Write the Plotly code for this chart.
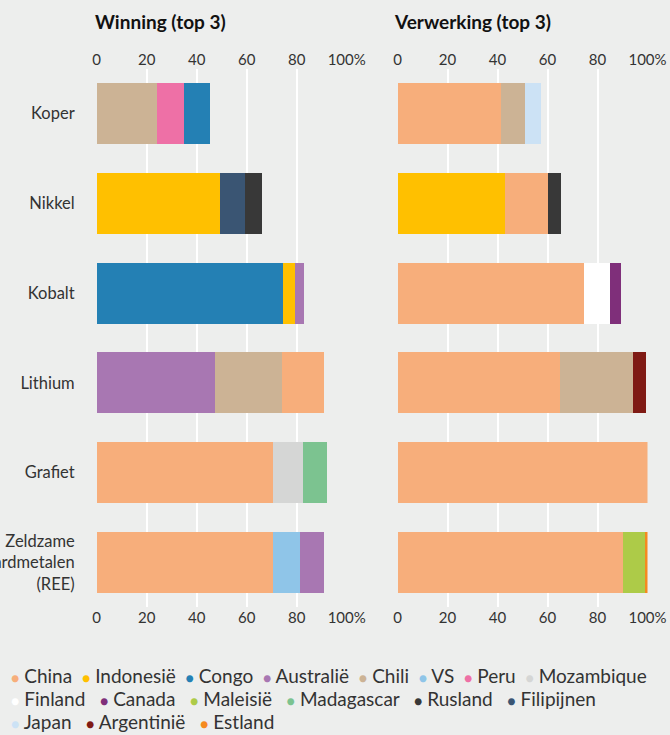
import plotly.graph_objects as go

# ---------------- data ----------------
minerals = ["Koper", "Nikkel", "Kobalt", "Lithium", "Grafiet", "Zeldzame<br>aardmetalen<br>(REE)"]

# Winning (top 3): countries and shares (%) per mineral, in stacking order
win_countries = [
    ["Chili", "Peru", "Congo"],
    ["Indonesië", "Filipijnen", "Rusland"],
    ["Congo", "Indonesië", "Australië"],
    ["Australië", "Chili", "China"],
    ["China", "Mozambique", "Madagascar"],
    ["China", "VS", "Australië"],
]
win_values = [
    [24, 11, 10.5],
    [49.5, 10, 6.5],
    [74.5, 5, 3.5],
    [47.5, 26.5, 17],
    [70.5, 12, 9.5],
    [70.5, 11, 9.5],
]

# Verwerking (top 3)
verw_countries = [
    ["China", "Chili", "Japan"],
    ["Indonesië", "China", "Rusland"],
    ["China", "Finland", "Canada"],
    ["China", "Chili", "Argentinië"],
    ["China", None, None],
    ["China", "Maleisië", "Estland"],
]
verw_values = [
    [41.5, 9.5, 6.5],
    [43, 17, 5.5],
    [74.5, 10.5, 4.5],
    [65, 29, 5.5],
    [100, None, None],
    [90, 9, 1],
]

legend_order = ["China", "Indonesië", "Congo", "Australië", "Chili", "VS", "Peru", "Mozambique",
                "Finland", "Canada", "Maleisië", "Madagascar", "Rusland", "Filipijnen",
                "Japan", "Argentinië", "Estland"]
legend_rows = [legend_order[0:8], legend_order[8:14], legend_order[14:17]]

colors = {
    "China": "#F7AE7B",
    "Indonesië": "#FFC000",
    "Congo": "#2480B4",
    "Australië": "#A877B2",
    "Chili": "#CCB395",
    "VS": "#8FC5E8",
    "Peru": "#EE70A6",
    "Mozambique": "#D5D6D5",
    "Finland": "#FFFFFF",
    "Canada": "#7F2F7A",
    "Maleisië": "#ADCB48",
    "Madagascar": "#7CC390",
    "Rusland": "#383838",
    "Filipijnen": "#3A5573",
    "Japan": "#CCE2F5",
    "Argentinië": "#7F1A14",
    "Estland": "#F58A1F",
}

tick_vals = [0, 20, 40, 60, 80, 100]
tick_text = ["0", "20", "40", "60", "80", "100%"]

# ---------------- figure ----------------
W, H = 670, 735
BG = "#EDEEED"
FONT = "Lato"
TXT = "#333333"

fig = go.Figure()

for countries, values, xa in [(win_countries, win_values, "x"), (verw_countries, verw_values, "x2")]:
    for r in range(3):
        xs = [values[m][r] for m in range(len(minerals))]
        cs = [colors[countries[m][r]] if countries[m][r] else BG for m in range(len(minerals))]
        names = [countries[m][r] or "" for m in range(len(minerals))]
        fig.add_trace(go.Bar(
            y=minerals, x=xs, orientation="h", xaxis=xa, yaxis="y",
            marker=dict(color=cs, line=dict(width=0)),
            text=names, textposition="none",
            hovertemplate="%{text}: %{x}%<extra></extra>",
            showlegend=False,
        ))

# invisible traces so the top (mirrored) axes are drawn
for xa in ["x3", "x4"]:
    fig.add_trace(go.Scatter(x=[None], y=[None], xaxis=xa, yaxis="y",
                             mode="markers", showlegend=False, hoverinfo="skip"))

def px_x(v):
    return v / W

def px_y(v):
    return 1 - v / H

dom_left = [px_x(96.7), px_x(346.7)]
dom_right = [px_x(397.5), px_x(647.5)]
dom_y = [px_y(607.4), px_y(68.6)]

xcommon = dict(range=[0, 100], tickvals=tick_vals, ticktext=tick_text,
               tickfont=dict(family=FONT, size=15, color=TXT), automargin=False,
               fixedrange=True, zeroline=False, showline=False, ticks="")

fig.update_layout(
    width=W, height=H,
    margin=dict(l=0, r=0, t=0, b=0, autoexpand=False),
    paper_bgcolor=BG, plot_bgcolor=BG,
    barmode="stack", bargap=0.32,
    showlegend=False,
    font=dict(family=FONT, color=TXT),
    xaxis=dict(domain=dom_left, anchor="y", side="bottom",
               showgrid=True, gridcolor="#FFFFFF", gridwidth=1.5, **xcommon),
    xaxis2=dict(domain=dom_right, anchor="y", side="bottom",
                showgrid=True, gridcolor="#FFFFFF", gridwidth=1.5, **xcommon),
    xaxis3=dict(overlaying="x", anchor="y", side="top", showgrid=False, **xcommon),
    xaxis4=dict(overlaying="x2", anchor="y", side="top", showgrid=False, **xcommon),
    yaxis=dict(domain=dom_y, anchor="x", categoryorder="array",
               categoryarray=minerals[::-1], showgrid=False, zeroline=False,
               showline=False, ticks="", ticklabelstandoff=21, automargin=False,
               tickfont=dict(family=FONT, size=16.5, color=TXT), fixedrange=True),
)

# panel titles
fig.add_annotation(text="<b>Winning (top 3)</b>", xref="paper", yref="paper",
                   x=px_x(93), y=px_y(22), xanchor="left", yanchor="middle",
                   showarrow=False, font=dict(family=FONT, size=19, color="#111111"))
fig.add_annotation(text="<b>Verwerking (top 3)</b>", xref="paper", yref="paper",
                   x=px_x(392), y=px_y(22), xanchor="left", yanchor="middle",
                   showarrow=False, font=dict(family=FONT, size=19, color="#111111"))

# legend (circle marker + name), one line of text per row
row_y = [675, 698, 721]
row_gap = ["\u00a0\u00a0", "\u00a0\u00a0\u00a0", "\u00a0\u00a0\u00a0"]
for names, yy, gap in zip(legend_rows, row_y, row_gap):
    parts = [f"<span style='color:{colors[n]};font-size:14px'>●</span>\u00a0{n}" for n in names]
    fig.add_annotation(text=gap.join(parts), xref="paper", yref="paper",
                       x=px_x(9), y=px_y(yy), xanchor="left", yanchor="middle",
                       align="left", showarrow=False,
                       font=dict(family=FONT, size=19, color=TXT))

fig.write_html("out.html",
               config={"displayModeBar": False},
               post_script="document.body.style.margin='0';document.body.style.background='#EDEEED';")
